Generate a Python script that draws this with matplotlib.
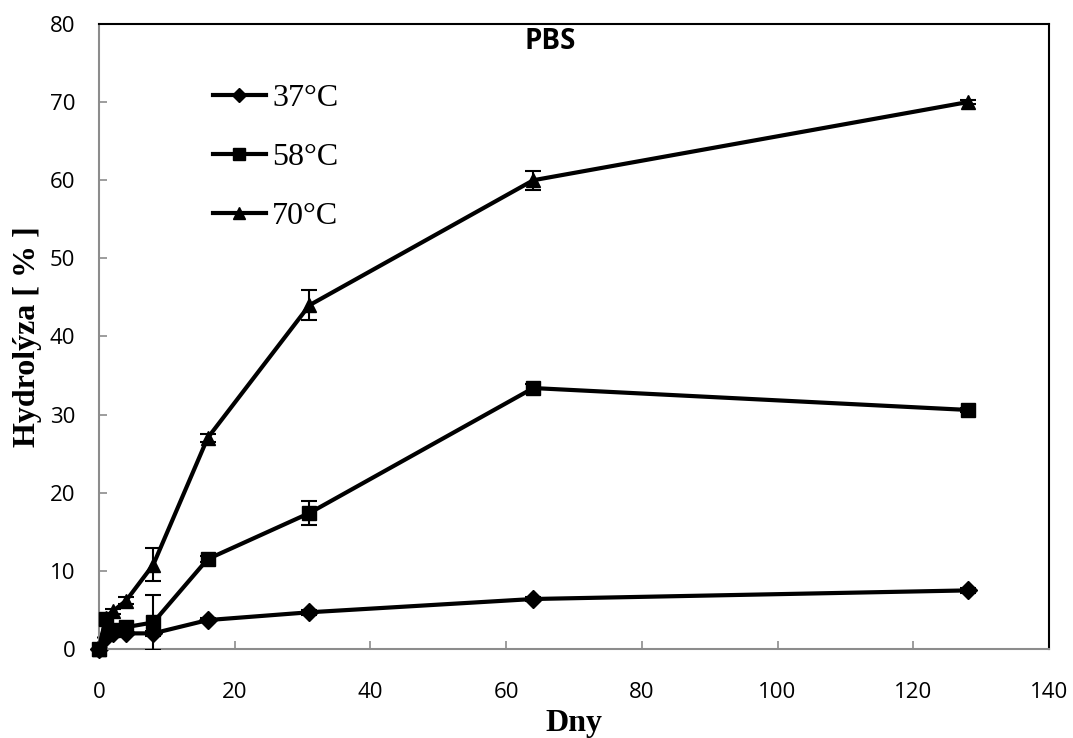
import matplotlib
matplotlib.use('Agg')
import matplotlib.pyplot as plt

# days and hydrolysis (%)
days = [0, 1, 2, 4, 8, 16, 31, 64, 128]
h37 = [0, 1.5, 2.0, 2.0, 2.0, 3.7, 4.7, 6.4, 7.5]
h58 = [0, 3.8, 2.4, 2.8, 3.4, 11.5, 17.4, 33.4, 30.6]
h70 = [0, 4.0, 4.8, 6.2, 10.8, 27.0, 44.0, 60.0, 70.0]
err37 = [0, 0.2, 0.2, 0.2, 0.3, 0.3, 0.3, 0.3, 0.3]
err58 = [0, 0.3, 0.3, 0.3, 3.5, 0.4, 1.5, 0.5, 0.3]
err70 = [0, 0.3, 0.3, 0.4, 2.1, 0.5, 1.9, 1.2, 0.3]
labels = ['37°C', '58°C', '70°C']
markers = ['D', 's', '^']

fig = plt.figure(figsize=(10.73, 7.38), dpi=100)
ax = fig.add_axes([0.0923, 0.1206, 0.8853, 0.8469])

series = [h37, h58, h70]
errs = [err37, err58, err70]
msizes = [9, 10, 10]
zorders = [2, 4, 3]  # squares sit on top in the original
for vals, err, m, lab, ms, z in zip(series, errs, markers, labels, msizes, zorders):
    lines = ax.errorbar(days, vals, yerr=err, fmt='-', color='black', lw=3,
                        marker=m, markersize=ms, ecolor='black', elinewidth=1.5,
                        capsize=6, capthick=1.5, label=lab, zorder=z)
    lines[0].set_clip_on(False)

ax.set_xlim(0, 140)
ax.set_ylim(0, 80)
ax.set_xticks(range(0, 141, 20))
ax.set_yticks(range(0, 81, 10))

for s in ['left', 'bottom']:
    ax.spines[s].set_color('#8c8c8c')
    ax.spines[s].set_linewidth(1.5)
for s in ['top', 'right']:
    ax.spines[s].set_color('black')
    ax.spines[s].set_linewidth(1.5)

ax.tick_params(direction='in', length=6, width=1.2, color='#8c8c8c',
               labelsize=16)
for lbl in ax.get_xticklabels() + ax.get_yticklabels():
    lbl.set_fontfamily('Open Sans')
ax.tick_params(axis='x', pad=24)
ax.tick_params(axis='y', pad=17)

ax.set_xlabel('Dny', fontsize=23, fontweight='bold', family='Liberation Serif', labelpad=4)
ax.set_ylabel('Hydrolýza [ % ]', fontsize=23, fontweight='bold', family='Liberation Serif', labelpad=6)

ax.text(0.475, 0.972, 'PBS', transform=ax.transAxes, ha='center', va='center',
        fontsize=20, fontweight='bold', family='Open Sans')

# legend without error bars
handles, labs = ax.get_legend_handles_labels()
handles = [h[0] for h in handles]
leg = ax.legend(handles, labs, loc='upper left', bbox_to_anchor=(0.12, 0.905),
                frameon=False, prop={'family': 'Liberation Serif', 'size': 23},
                labelspacing=0.93, handlelength=1.65, handletextpad=0.2,
                borderaxespad=0, borderpad=0, markerscale=0.8)

fig.savefig('out.png', dpi=100)
